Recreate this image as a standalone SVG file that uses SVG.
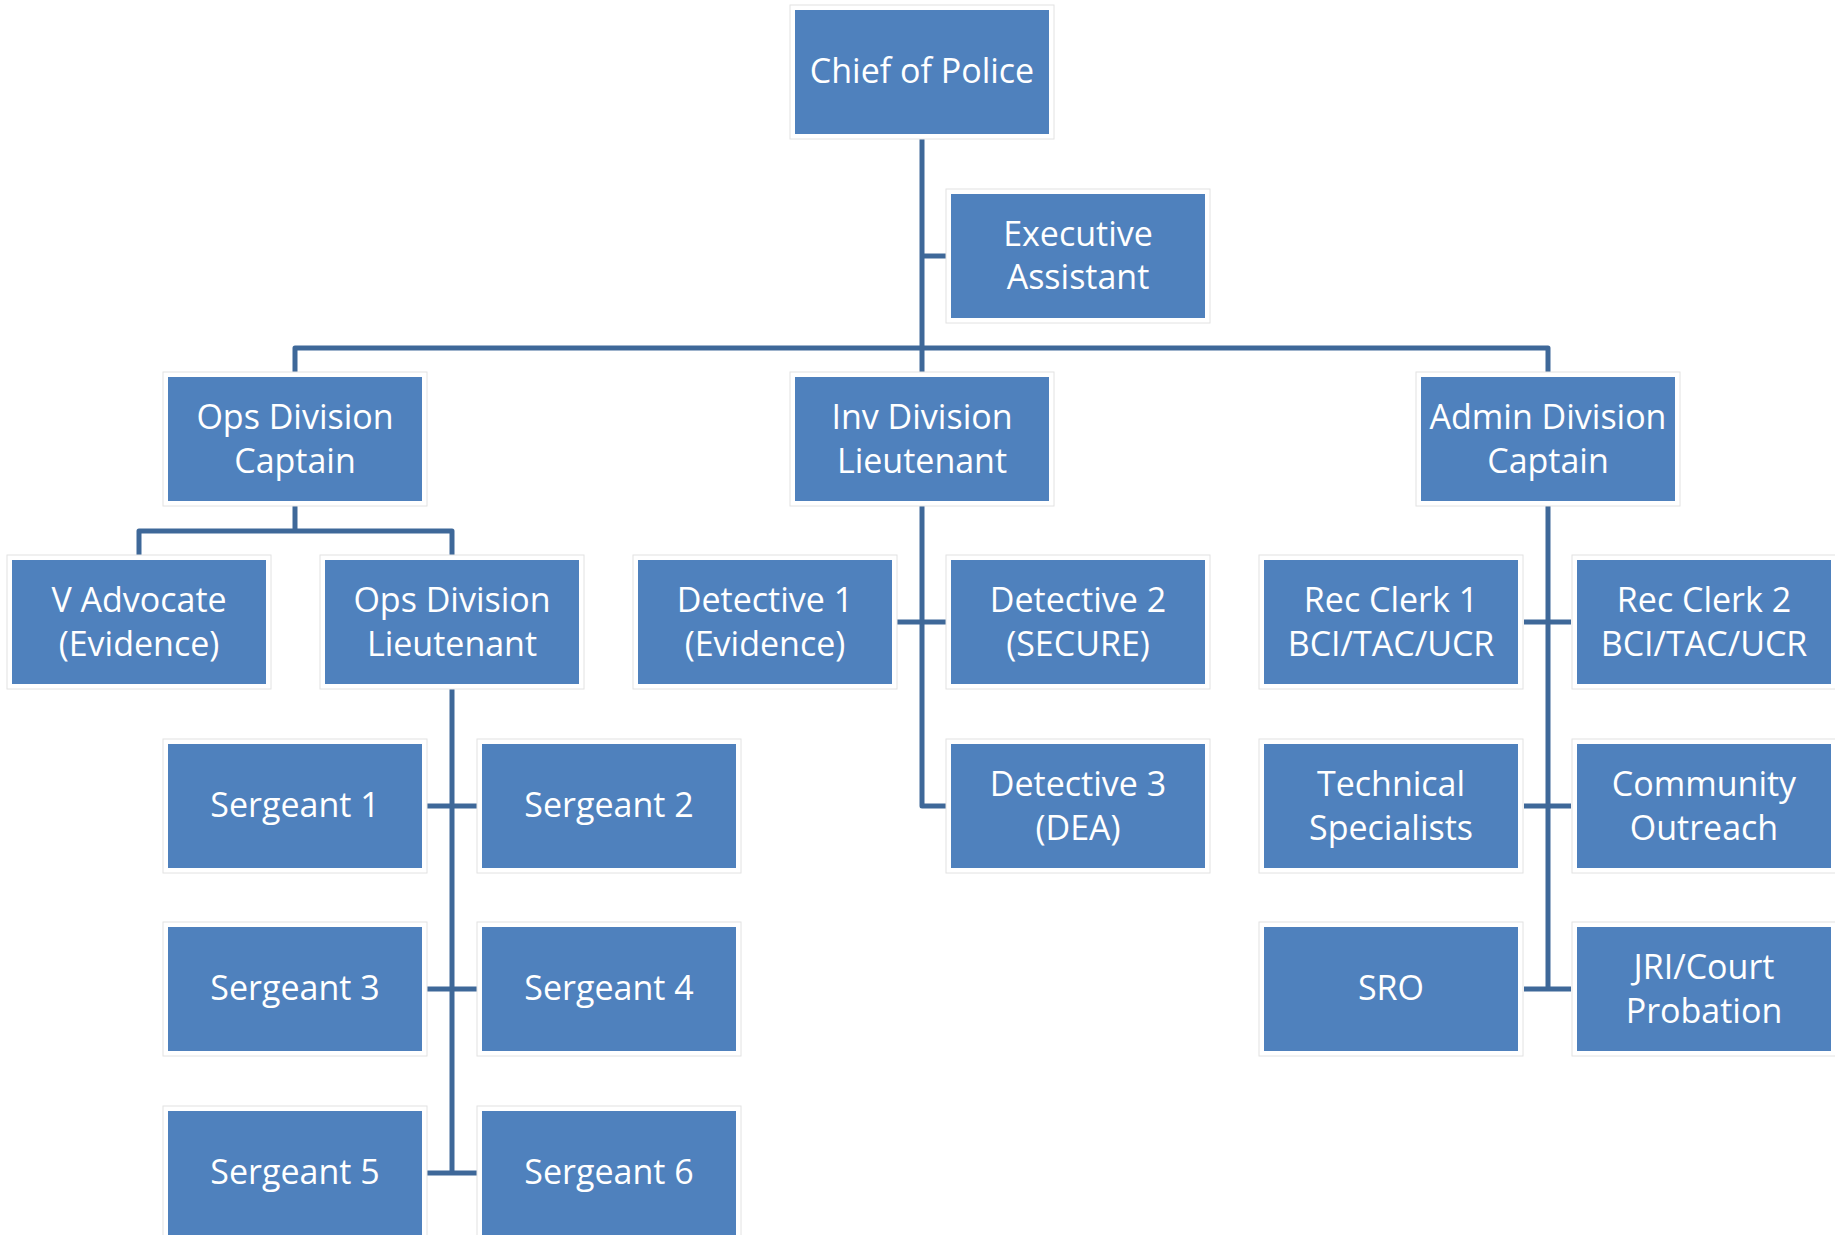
<svg xmlns="http://www.w3.org/2000/svg" width="1835" height="1235" viewBox="0 0 1835 1235">
<style>
.frame{fill:#ffffff;stroke:#e2e2e2;stroke-width:1}
.box{fill:#4f81bd}
.t{fill:#ffffff;font-family:"Open Sans","Liberation Sans",sans-serif;font-size:34px;text-anchor:middle}
.ln{fill:none;stroke:#3e6899;stroke-width:5;stroke-linejoin:round;stroke-linecap:butt}
</style>
<rect width="1835" height="1235" fill="#ffffff"/>
<g id="connectors">
<path class="ln" d="M922,137 V372"/>
<path class="ln" d="M922,256 H946"/>
<path class="ln" d="M295,372 V348 H1548 V372"/>
<path class="ln" d="M295,506 V531"/>
<path class="ln" d="M139,555 V531 H452 V555"/>
<path class="ln" d="M452,689 V1173"/>
<path class="ln" d="M427,806 H477"/>
<path class="ln" d="M427,989 H477"/>
<path class="ln" d="M427,1173 H477"/>
<path class="ln" d="M922,506 V806 H946"/>
<path class="ln" d="M897,622 H946"/>
<path class="ln" d="M1548,506 V989"/>
<path class="ln" d="M1524,622 H1571"/>
<path class="ln" d="M1524,806 H1571"/>
<path class="ln" d="M1524,989 H1571"/>
</g>
<g id="chief"><rect class="frame" x="790" y="5" width="264" height="134"/><rect class="box" x="795" y="10" width="254" height="124"/><text class="t" x="922" y="83">Chief of Police</text></g>
<g id="exec"><rect class="frame" x="946" y="189" width="264" height="134"/><rect class="box" x="951" y="194" width="254" height="124"/><text class="t" x="1078" y="246">Executive</text><text class="t" x="1078" y="289">Assistant</text></g>
<g id="ops-captain"><rect class="frame" x="163" y="372" width="264" height="134"/><rect class="box" x="168" y="377" width="254" height="124"/><text class="t" x="295" y="429">Ops Division</text><text class="t" x="295" y="473">Captain</text></g>
<g id="inv-lieutenant"><rect class="frame" x="790" y="372" width="264" height="134"/><rect class="box" x="795" y="377" width="254" height="124"/><text class="t" x="922" y="429">Inv Division</text><text class="t" x="922" y="473">Lieutenant</text></g>
<g id="admin-captain"><rect class="frame" x="1416" y="372" width="264" height="134"/><rect class="box" x="1421" y="377" width="254" height="124"/><text class="t" x="1548" y="429">Admin Division</text><text class="t" x="1548" y="473">Captain</text></g>
<g id="v-advocate"><rect class="frame" x="7" y="555" width="264" height="134"/><rect class="box" x="12" y="560" width="254" height="124"/><text class="t" x="139" y="612">V Advocate</text><text class="t" x="139" y="656">(Evidence)</text></g>
<g id="ops-lieutenant"><rect class="frame" x="320" y="555" width="264" height="134"/><rect class="box" x="325" y="560" width="254" height="124"/><text class="t" x="452" y="612">Ops Division</text><text class="t" x="452" y="656">Lieutenant</text></g>
<g id="detective-1"><rect class="frame" x="633" y="555" width="264" height="134"/><rect class="box" x="638" y="560" width="254" height="124"/><text class="t" x="765" y="612">Detective 1</text><text class="t" x="765" y="656">(Evidence)</text></g>
<g id="detective-2"><rect class="frame" x="946" y="555" width="264" height="134"/><rect class="box" x="951" y="560" width="254" height="124"/><text class="t" x="1078" y="612">Detective 2</text><text class="t" x="1078" y="656">(SECURE)</text></g>
<g id="rec-clerk-1"><rect class="frame" x="1259" y="555" width="264" height="134"/><rect class="box" x="1264" y="560" width="254" height="124"/><text class="t" x="1391" y="612">Rec Clerk 1</text><text class="t" x="1391" y="656">BCI/TAC/UCR</text></g>
<g id="rec-clerk-2"><rect class="frame" x="1572" y="555" width="264" height="134"/><rect class="box" x="1577" y="560" width="254" height="124"/><text class="t" x="1704" y="612">Rec Clerk 2</text><text class="t" x="1704" y="656">BCI/TAC/UCR</text></g>
<g id="sergeant-1"><rect class="frame" x="163" y="739" width="264" height="134"/><rect class="box" x="168" y="744" width="254" height="124"/><text class="t" x="295" y="817">Sergeant 1</text></g>
<g id="sergeant-2"><rect class="frame" x="477" y="739" width="264" height="134"/><rect class="box" x="482" y="744" width="254" height="124"/><text class="t" x="609" y="817">Sergeant 2</text></g>
<g id="detective-3"><rect class="frame" x="946" y="739" width="264" height="134"/><rect class="box" x="951" y="744" width="254" height="124"/><text class="t" x="1078" y="796">Detective 3</text><text class="t" x="1078" y="840">(DEA)</text></g>
<g id="technical-specialists"><rect class="frame" x="1259" y="739" width="264" height="134"/><rect class="box" x="1264" y="744" width="254" height="124"/><text class="t" x="1391" y="796">Technical</text><text class="t" x="1391" y="840">Specialists</text></g>
<g id="community-outreach"><rect class="frame" x="1572" y="739" width="264" height="134"/><rect class="box" x="1577" y="744" width="254" height="124"/><text class="t" x="1704" y="796">Community</text><text class="t" x="1704" y="840">Outreach</text></g>
<g id="sergeant-3"><rect class="frame" x="163" y="922" width="264" height="134"/><rect class="box" x="168" y="927" width="254" height="124"/><text class="t" x="295" y="1000">Sergeant 3</text></g>
<g id="sergeant-4"><rect class="frame" x="477" y="922" width="264" height="134"/><rect class="box" x="482" y="927" width="254" height="124"/><text class="t" x="609" y="1000">Sergeant 4</text></g>
<g id="sro"><rect class="frame" x="1259" y="922" width="264" height="134"/><rect class="box" x="1264" y="927" width="254" height="124"/><text class="t" x="1391" y="1000">SRO</text></g>
<g id="jri-court-probation"><rect class="frame" x="1572" y="922" width="264" height="134"/><rect class="box" x="1577" y="927" width="254" height="124"/><text class="t" x="1704" y="979">JRI/Court</text><text class="t" x="1704" y="1023">Probation</text></g>
<g id="sergeant-5"><rect class="frame" x="163" y="1106" width="264" height="134"/><rect class="box" x="168" y="1111" width="254" height="124"/><text class="t" x="295" y="1184">Sergeant 5</text></g>
<g id="sergeant-6"><rect class="frame" x="477" y="1106" width="264" height="134"/><rect class="box" x="482" y="1111" width="254" height="124"/><text class="t" x="609" y="1184">Sergeant 6</text></g>
</svg>
